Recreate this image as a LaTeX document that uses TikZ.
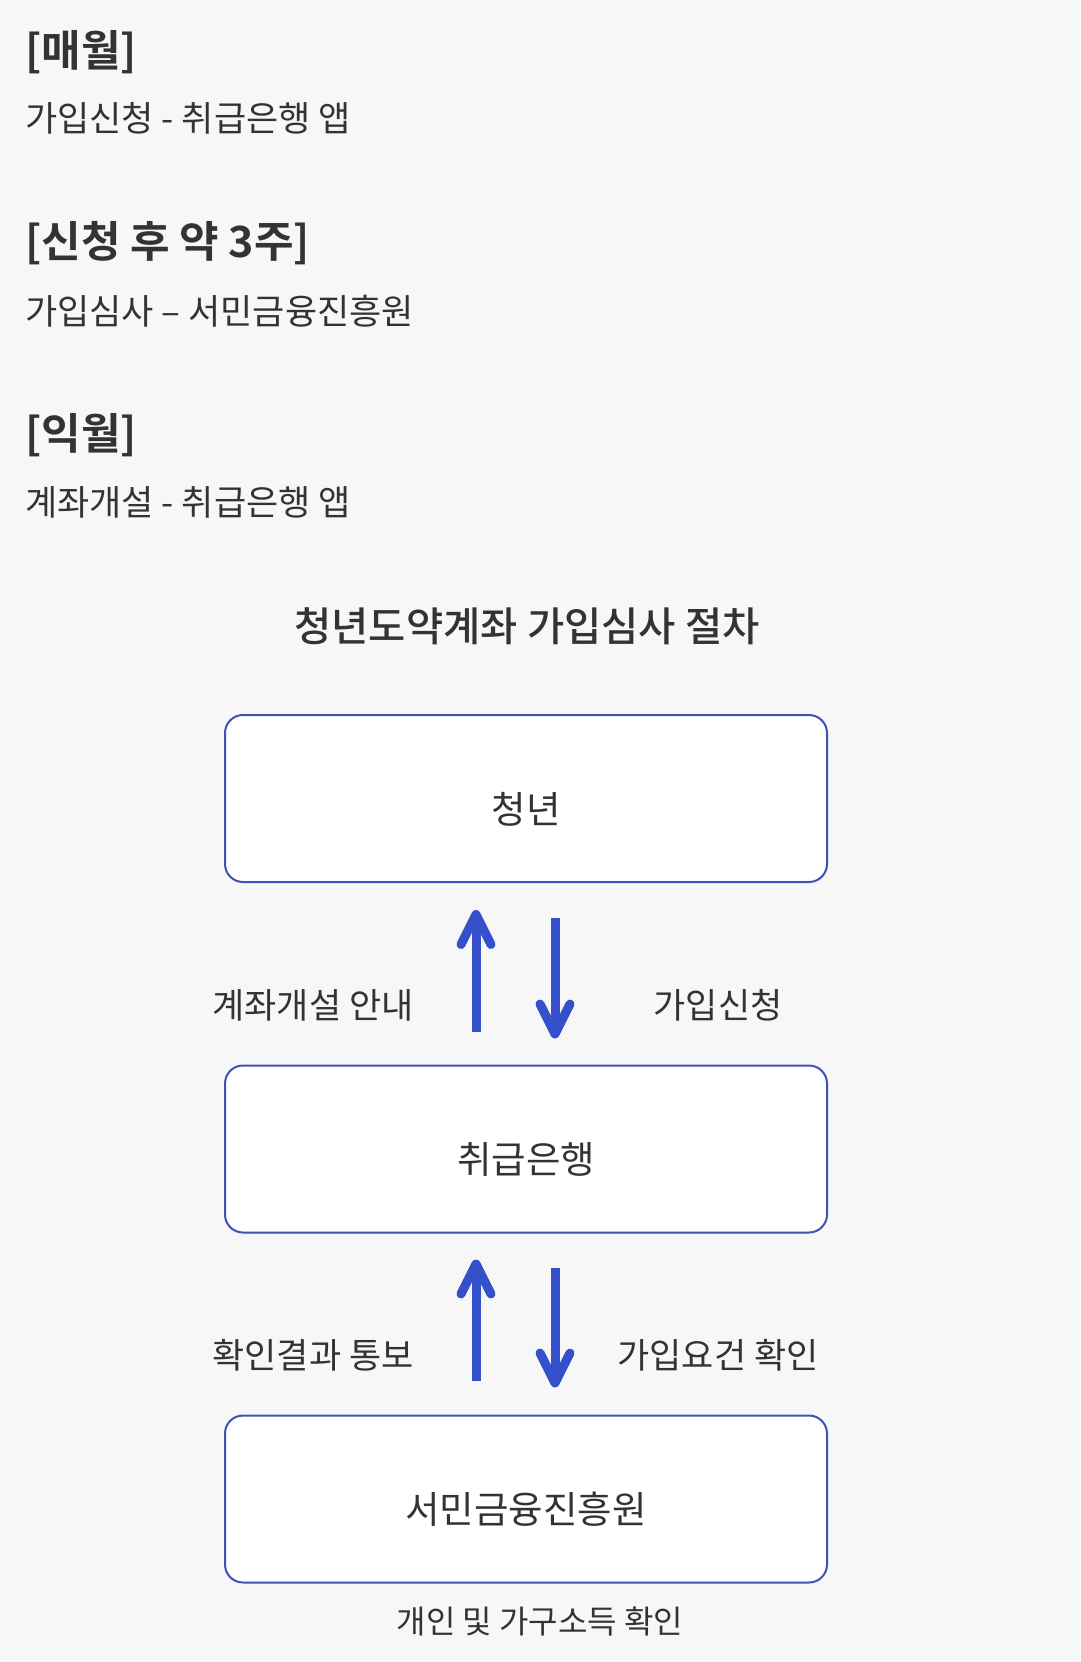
\documentclass[tikz,border=0pt]{standalone}
\usepackage{fontspec}
\setmainfont{Noto Sans CJK KR}[BoldFont={Noto Sans CJK KR Bold}]
\newfontfamily\mediumfont{Noto Sans CJK KR Medium}
\usepackage{tikz}
\usetikzlibrary{arrows.meta, positioning, calc}
\definecolor{page-gray}{HTML}{F7F7F7}
\definecolor{text-gray}{HTML}{333333}
\definecolor{box-blue}{HTML}{3F51B5}
\definecolor{arrow-blue}{HTML}{3550CB}

\begin{document}
\begin{tikzpicture}[
    x=1pt, y=-1pt,
    heading/.style={anchor=west, inner sep=0pt, text=text-gray, font=\fontsize{43}{52}\selectfont\bfseries},
    detail/.style={anchor=west, inner sep=0pt, text=text-gray, font=\fontsize{35}{42}\selectfont},
    box/.style={rectangle, draw=box-blue, line width=2pt, fill=white, minimum width=602pt, minimum height=167pt, rounded corners=18pt, text=text-gray, font=\fontsize{37.5}{45}\selectfont, text height=49pt, text depth=0pt},
    flowlabel/.style={inner sep=0pt, text=text-gray, font=\fontsize{35}{42}\selectfont},
    flowarrow/.style={-{Straight Barb[length=30pt, width=30pt, round]}, line width=9pt, draw=arrow-blue}
]

% page
\fill[page-gray] (0,0) rectangle (1080,1662);
\useasboundingbox (0,0) rectangle (1080,1662);

% schedule
\node[heading] (monthly) at (25,52.5) {[매월]};
\node[detail] (monthly-app) at (25,118.5) {가입신청 - 취급은행 앱};

\node[heading] (review) at (25,243.5) {[신청 후 약 3주]};
\node[detail] (review-agency) at (25,311) {가입심사 – 서민금융진흥원};

\node[heading] (nextmonth) at (25,435.5) {[익월]};
\node[detail] (nextmonth-app) at (25,502.5) {계좌개설 - 취급은행 앱};

% title
\node[inner sep=0pt, text=text-gray, font=\mediumfont\fontsize{40.5}{48}\selectfont] (title) at (527,626.5) {청년도약계좌 가입심사 절차};

% boxes
\node[box] (youth) at (526,798.5) {청년};
\node[box, below=181.5pt of youth] (bank) {취급은행};
\node[box, below=181pt of bank] (agency) {서민금융진흥원};
\node[flowlabel, font=\fontsize{32}{38}\selectfont, below=23pt of agency.south, xshift=14pt] (income) {개인 및 가구소득 확인};

% arrows
\draw[flowarrow, shorten <=33pt, shorten >=27pt] ([xshift=-50pt]bank.north) -- ([xshift=-50pt]youth.south);
\draw[flowarrow, shorten <=35pt, shorten >=26pt] ([xshift=29pt]youth.south) -- ([xshift=29pt]bank.north);
\node[flowlabel] (notice) at ($(youth.south)!0.5!(bank.north)+(-213,32)$) {계좌개설 안내};
\node[flowlabel] (apply) at ($(youth.south)!0.5!(bank.north)+(192,32)$) {가입신청};

\draw[flowarrow, shorten <=34pt, shorten >=26pt] ([xshift=-50pt]agency.north) -- ([xshift=-50pt]bank.south);
\draw[flowarrow, shorten <=34pt, shorten >=27pt] ([xshift=29pt]bank.south) -- ([xshift=29pt]agency.north);
\node[flowlabel] (result) at ($(bank.south)!0.5!(agency.north)+(-213,31)$) {확인결과 통보};
\node[flowlabel] (check) at ($(bank.south)!0.5!(agency.north)+(192,31)$) {가입요건 확인};

\end{tikzpicture}
\end{document}
